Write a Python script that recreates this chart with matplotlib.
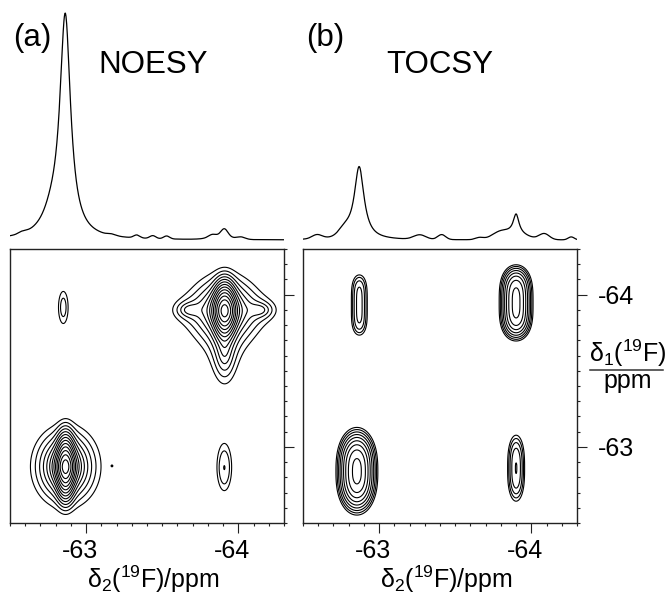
import numpy as np
import matplotlib
matplotlib.use('Agg')
import matplotlib.pyplot as plt
import matplotlib.transforms as mtransforms
from matplotlib.ticker import FixedLocator, MultipleLocator
from matplotlib.lines import Line2D

plt.rcParams['font.family'] = ['Liberation Sans', 'DejaVu Sans']
plt.rcParams['mathtext.fontset'] = 'custom'
plt.rcParams['mathtext.rm'] = 'Liberation Sans'
plt.rcParams['mathtext.it'] = 'Liberation Sans:italic'
plt.rcParams['mathtext.bf'] = 'Liberation Sans:bold'

W, H = 668, 596

# axis range and ticks (ppm)
ppm_lo, ppm_hi = -64.3, -62.5
tick_ppm = [-63, -64]
tick_text = ['-63', '-64']
panel_tags = ['(a)', '(b)']
panel_names = ['NOESY', 'TOCSY']

# contour levels
contour_base = 0.034
contour_step = 1.307
contour_count = 14

# 2D peaks (NOESY): centre d2/d1, gaussian core (amp, sigma d2, sigma d1, exponent d1),
# lorentzian foot (amp, width d2, width d1)
noesy_d2 = [-62.865, -63.91, -63.681, -64.139, -63.91, -62.85, -63.908, -63.17]
noesy_d1 = [-62.87, -63.895, -63.90, -63.90, -63.635, -63.918, -62.86, -62.875]
noesy_core_amp = [0.55, 0.6, 0.0, 0.0, 0.0, 0.046, 0.052, 0.0352]
noesy_core_s2 = [0.032, 0.038, 0.01, 0.01, 0.01, 0.033, 0.043, 0.004]
noesy_core_s1 = [0.105, 0.092, 0.01, 0.01, 0.01, 0.11, 0.136, 0.004]
noesy_core_q1 = [2, 2, 2, 2, 2, 2, 2, 2]
noesy_foot_amp = [0.45, 0.35, 0.06, 0.06, 0.08, 0.0, 0.0, 0.0]
noesy_foot_w2 = [0.065, 0.072, 0.065, 0.065, 0.052, 0.01, 0.01, 0.01]
noesy_foot_w1 = [0.079, 0.072, 0.04, 0.04, 0.145, 0.01, 0.01, 0.01]

# 2D peaks (TOCSY)
tocsy_d2 = [-62.87, -63.90, -62.854, -63.90]
tocsy_d1 = [-63.932, -63.946, -62.84, -62.86]
tocsy_core_amp = [0.085, 0.245, 0.32, 0.10]
tocsy_core_s2 = [0.0386, 0.056, 0.065, 0.038]
tocsy_core_s1 = [0.170, 0.163, 0.158, 0.163]
tocsy_core_q1 = [4.0, 3.2, 2.5, 2.7]
tocsy_foot_amp = [0.0, 0.0, 0.0, 0.0]
tocsy_foot_w2 = [0.01, 0.01, 0.01, 0.01]
tocsy_foot_w1 = [0.01, 0.01, 0.01, 0.01]

# 1D projections: position, height, width, line shape (L = Lorentz, G = Gauss)
noesy_1d_pos = [-62.863, -62.778, -62.582, -63.17, -63.333, -63.438, -63.529,
                -63.83, -63.889, -63.908, -64.02]
noesy_1d_amp = [0.963, 0.08, 0.008, 0.006, 0.013, 0.013, 0.013,
                0.013, 0.013, 0.035, 0.009]
noesy_1d_wid = [0.0425, 0.078, 0.026, 0.026, 0.02, 0.02, 0.02,
                0.026, 0.078, 0.023, 0.026]
noesy_1d_kind = ['L', 'L', 'G', 'G', 'G', 'G', 'G', 'G', 'G', 'G', 'G']

tocsy_1d_pos = [-62.869, -62.592, -62.775, -63.267, -63.411, -63.659, -63.79,
                -63.90, -63.889, -64.085, -64.262]
tocsy_1d_amp = [0.322, 0.018, 0.031, 0.02, 0.022, 0.009, 0.024,
                0.086, 0.026, 0.026, 0.013]
tocsy_1d_wid = [0.039, 0.033, 0.039, 0.04, 0.026, 0.026, 0.052,
                0.023, 0.079, 0.033, 0.02]
tocsy_1d_kind = ['L', 'G', 'G', 'G', 'G', 'G', 'G', 'L', 'G', 'G', 'G']


def spectrum_2d(X, Y, d2, d1, ca, cs2, cs1, cq1, fa, fw2, fw1):
    Z = np.zeros_like(X)
    for i in range(len(d2)):
        dx = X - d2[i]
        dy = Y - d1[i]
        Z += ca[i] * np.exp(-0.5 * ((dx / cs2[i]) ** 2 + np.abs(dy / cs1[i]) ** cq1[i]))
        Z += fa[i] / (1 + (dx / fw2[i]) ** 2 + (dy / fw1[i]) ** 2)
    return Z


def spectrum_1d(x, pos, amp, wid, kind):
    y = np.zeros_like(x)
    for c, a, w, k in zip(pos, amp, wid, kind):
        if k == 'L':
            y += a / (1 + ((x - c) / w) ** 2)
        else:
            y += a * np.exp(-0.5 * ((x - c) / w) ** 2)
    return y


def px_rect(left, top, width, height):
    return [left / W, 1 - (top + height) / H, width / W, height / H]


fig = plt.figure(figsize=(W / 100, H / 100), dpi=100)

grid = np.linspace(ppm_lo, ppm_hi, 700)
X, Y = np.meshgrid(grid, grid)
x1d = np.linspace(ppm_lo, ppm_hi, 1200)
levels = contour_base * contour_step ** np.arange(contour_count)

noesy_2d = spectrum_2d(X, Y, noesy_d2, noesy_d1, noesy_core_amp, noesy_core_s2, noesy_core_s1,
                       noesy_core_q1, noesy_foot_amp, noesy_foot_w2, noesy_foot_w1)
tocsy_2d = spectrum_2d(X, Y, tocsy_d2, tocsy_d1, tocsy_core_amp, tocsy_core_s2, tocsy_core_s1,
                       tocsy_core_q1, tocsy_foot_amp, tocsy_foot_w2, tocsy_foot_w1)
panels = [
    (10, noesy_2d, spectrum_1d(x1d, noesy_1d_pos, noesy_1d_amp, noesy_1d_wid, noesy_1d_kind)),
    (303, tocsy_2d, spectrum_1d(x1d, tocsy_1d_pos, tocsy_1d_amp, tocsy_1d_wid, tocsy_1d_kind)),
]

box_top, box_size = 249, 274
shift = mtransforms.ScaledTranslation(-6 / 100, 0, fig.dpi_scale_trans)

for i, (left, Z, trace) in enumerate(panels):
    # contour map
    ax = fig.add_axes(px_rect(left, box_top, box_size, box_size))
    ax.contour(X, Y, Z, levels=levels, colors='black', linewidths=0.8)
    ax.set_xlim(ppm_hi, ppm_lo)
    ax.set_ylim(ppm_hi, ppm_lo)
    for sp in ax.spines.values():
        sp.set_linewidth(1.0)
        sp.set_color('#222222')
    for axis in (ax.xaxis, ax.yaxis):
        axis.set_major_locator(FixedLocator(tick_ppm))
        axis.set_minor_locator(MultipleLocator(0.1))
    ax.set_xticklabels(tick_text)
    ax.set_yticklabels(tick_text)
    ax.tick_params(which='both', direction='out', width=0.8, color='#222222',
                   top=False, left=False, right=True, labelleft=False,
                   labelright=(i == 1), labelsize=18)
    ax.tick_params(which='major', length=7.2)
    ax.tick_params(which='minor', length=2.4)
    ax.tick_params(axis='x', which='major', pad=4)
    ax.tick_params(axis='y', which='major', pad=7.5)
    for lab in ax.get_xticklabels():
        lab.set_transform(lab.get_transform() + shift)
    ax.set_xlabel(r'δ$_2$($^{19}$F)/ppm', fontsize=18, va='baseline')
    ax.xaxis.set_label_coords(0.525, -(588 - 523) / box_size)

    # 1D projection on top
    ax1 = fig.add_axes(px_rect(left, 0, box_size, 248))
    ax1.plot(x1d, trace, color='black', lw=0.9)
    ax1.set_xlim(ppm_hi, ppm_lo)
    ax1.set_ylim(-8 / 227, 1 + 13 / 227)
    ax1.axis('off')

    fig.text((left + 3) / W, 1 - 38 / H, panel_tags[i], fontsize=22.5, ha='left', va='center')

fig.text(98 / W, 1 - 73.3 / H, panel_names[0], fontsize=22.5, ha='left', va='baseline')
fig.text(386 / W, 1 - 73.3 / H, panel_names[1], fontsize=22.5, ha='left', va='baseline')

# delta1 axis label as a fraction
fig.text(628 / W, 1 - 362 / H, r'δ$_1$($^{19}$F)', fontsize=18, ha='center', va='baseline')
fig.text(628 / W, 1 - 388 / H, 'ppm', fontsize=18, ha='center', va='baseline')
fig.add_artist(Line2D([590 / W, 663 / W], [1 - 370 / H, 1 - 370 / H], color='#333333', lw=1.1))

fig.savefig('out.png', dpi=100)
